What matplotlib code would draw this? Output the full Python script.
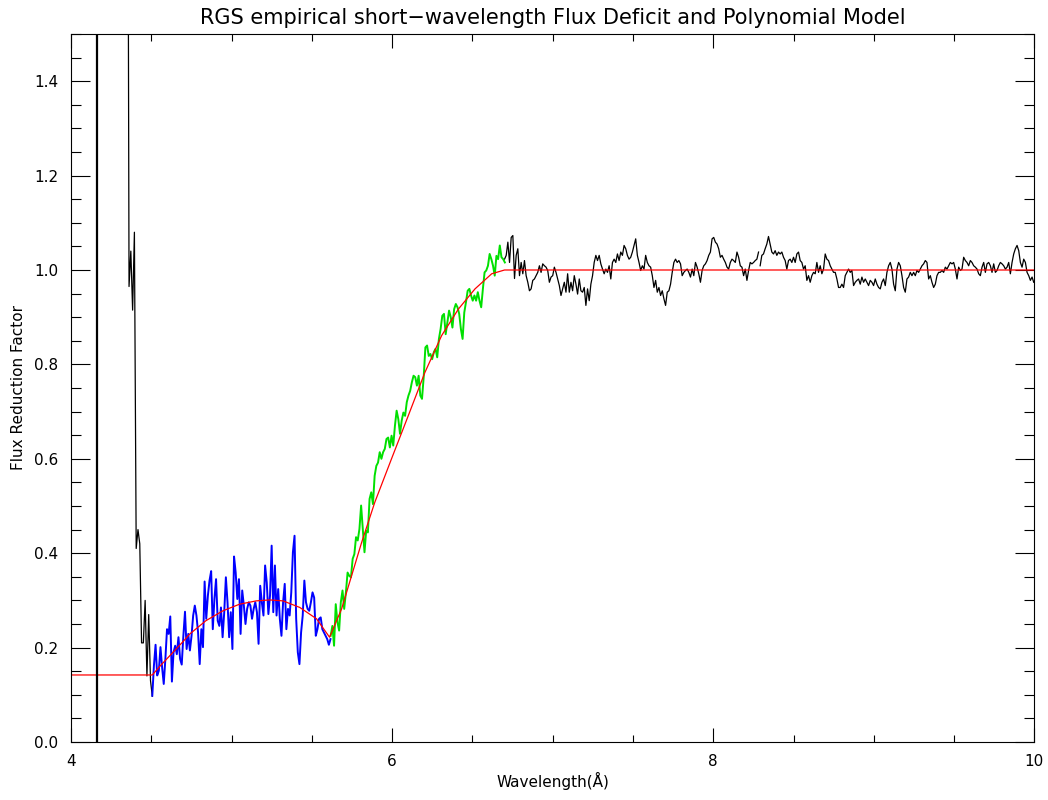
import matplotlib

matplotlib.use("Agg")

import matplotlib.pyplot as plt
import numpy as np
from matplotlib.ticker import MultipleLocator

# black spectrum before the blue fit region (first point runs off the top)
black_lead = [2.5, 0.965, 1.04, 0.915, 1.08, 0.41, 0.45, 0.42, 0.21, 0.21,
              0.30, 0.14, 0.27, 0.13, 0.097]
black_lead_wl = (4.35, 4.506)

# blue: low-flux region 4.5 - 5.62 A
blue = [0.098, 0.162, 0.206, 0.141, 0.151, 0.201, 0.158, 0.123, 0.176, 0.239,
        0.229, 0.266, 0.128, 0.190, 0.204, 0.186, 0.222, 0.176, 0.164, 0.225,
        0.276, 0.197, 0.229, 0.194, 0.225, 0.268, 0.289, 0.268, 0.232, 0.165,
        0.239, 0.201, 0.340, 0.261, 0.310, 0.342, 0.362, 0.239, 0.303, 0.345,
        0.257, 0.246, 0.285, 0.222, 0.275, 0.349, 0.296, 0.222, 0.275, 0.197,
        0.393, 0.359, 0.303, 0.345, 0.229, 0.321, 0.289, 0.250, 0.282, 0.296,
        0.289, 0.261, 0.282, 0.296, 0.275, 0.208, 0.331, 0.296, 0.268, 0.374,
        0.338, 0.271, 0.310, 0.416, 0.275, 0.374, 0.268, 0.324, 0.261, 0.225,
        0.296, 0.335, 0.239, 0.282, 0.268, 0.317, 0.402, 0.437, 0.261, 0.190,
        0.165, 0.232, 0.268, 0.342, 0.296, 0.282, 0.278, 0.296, 0.317, 0.306,
        0.225, 0.239, 0.261, 0.264, 0.239, 0.232, 0.225, 0.218, 0.206, 0.218]
blue_wl = (4.506, 5.616)

# green: rising edge 5.62 - 6.70 A
green = [0.225, 0.246, 0.204, 0.292, 0.254, 0.236, 0.296, 0.321, 0.282, 0.317,
         0.359, 0.352, 0.349, 0.388, 0.398, 0.434, 0.427, 0.451, 0.501, 0.451,
         0.402, 0.448, 0.444, 0.515, 0.529, 0.504, 0.564, 0.585, 0.592, 0.614,
         0.600, 0.614, 0.621, 0.642, 0.645, 0.624, 0.649, 0.628, 0.670, 0.702,
         0.684, 0.653, 0.681, 0.698, 0.691, 0.720, 0.734, 0.744, 0.762, 0.776,
         0.773, 0.755, 0.776, 0.734, 0.727, 0.773, 0.836, 0.840, 0.818, 0.822,
         0.811, 0.826, 0.833, 0.815, 0.854, 0.875, 0.903, 0.907, 0.864, 0.889,
         0.914, 0.900, 0.878, 0.917, 0.928, 0.921, 0.907, 0.875, 0.854, 0.910,
         0.932, 0.956, 0.960, 0.946, 0.935, 0.946, 0.935, 0.953, 0.935, 0.921,
         0.960, 0.995, 0.999, 1.009, 1.034, 1.023, 1.009, 0.988, 1.030, 1.023,
         1.052, 1.027, 1.023, 1.016]
green_wl = (5.617, 6.702)

# black continuum 6.70 - 8.28 A
black_a = [1.023, 1.031, 1.059, 1.016, 1.069, 1.073, 0.982, 1.031, 1.045, 0.988,
           1.016, 0.992, 1.020, 0.988, 0.974, 0.956, 0.960, 0.978, 0.981, 0.988,
           0.995, 1.009, 0.995, 1.013, 1.009, 1.006, 0.999, 0.974, 0.985, 0.988,
           1.006, 0.995, 0.981, 0.967, 0.946, 0.960, 0.974, 0.953, 0.992, 0.953,
           0.974, 0.956, 0.988, 0.970, 0.949, 0.981, 0.956, 0.953, 0.963, 0.925,
           0.960, 0.935, 0.970, 0.988, 1.016, 1.031, 1.020, 1.031, 1.013, 1.002,
           0.992, 1.002, 0.995, 1.009, 0.981, 1.016, 1.023, 1.016, 1.034, 1.020,
           1.038, 1.031, 1.052, 1.045, 1.031, 1.023, 1.027, 1.038, 1.052, 1.066,
           1.031, 1.016, 0.999, 1.009, 1.002, 1.031, 1.016, 1.009, 1.006, 0.988,
           0.963, 0.978, 0.953, 0.963, 0.946, 0.956, 0.939, 0.925, 0.953, 0.956,
           0.970, 0.995, 1.016, 1.023, 1.016, 1.020, 1.013, 0.988, 0.995, 0.999,
           1.002, 0.995, 0.985, 1.002, 0.988, 1.016, 1.006, 0.992, 0.974, 0.999,
           1.009, 1.013, 1.020, 1.031, 1.038, 1.066, 1.069, 1.059, 1.055, 1.045,
           1.027, 1.031, 1.023, 1.016, 1.006, 1.002, 1.016, 1.023, 1.020, 1.016,
           1.038, 1.027, 1.009, 1.006, 0.988, 1.002, 0.978, 0.999, 1.016, 1.013,
           1.016, 1.020, 1.023, 1.038]
black_a_wl = (6.70, 8.282)

# black continuum 8.29 - 10 A
black_b = [1.009, 1.031, 1.034, 1.045, 1.055, 1.071, 1.055, 1.038, 1.034, 1.041,
           1.031, 1.038, 1.034, 1.038, 1.027, 1.020, 1.002, 1.020, 1.023, 1.016,
           1.027, 1.016, 1.034, 1.038, 1.020, 1.016, 1.002, 1.009, 0.978, 0.988,
           0.974, 0.988, 0.995, 0.992, 1.016, 0.995, 1.009, 0.992, 1.002, 1.034,
           1.023, 1.020, 1.009, 1.002, 0.995, 0.995, 0.981, 0.963, 0.963, 0.970,
           0.963, 0.988, 0.995, 1.002, 0.995, 0.999, 0.967, 0.974, 0.978, 0.981,
           0.970, 0.985, 0.974, 0.981, 0.974, 0.967, 0.978, 0.974, 0.967, 0.981,
           0.970, 0.963, 0.960, 0.974, 0.981, 0.967, 0.995, 1.009, 1.016, 1.002,
           0.970, 0.956, 1.002, 1.016, 1.009, 0.988, 0.963, 0.953, 0.981, 0.985,
           0.995, 0.988, 0.995, 0.988, 0.999, 0.995, 1.002, 1.009, 1.013, 1.020,
           1.016, 0.981, 0.988, 0.974, 0.963, 0.970, 0.988, 0.995, 0.995, 0.999,
           0.995, 1.006, 1.002, 1.009, 1.016, 1.013, 1.016, 1.002, 0.981, 1.006,
           0.999, 1.002, 1.027, 1.020, 1.016, 1.009, 1.020, 1.016, 1.009, 1.006,
           1.002, 0.992, 0.988, 1.006, 1.016, 0.995, 1.013, 1.016, 1.009, 0.995,
           1.013, 0.995, 0.999, 1.009, 1.016, 1.013, 1.009, 1.002, 1.006, 1.016,
           0.992, 1.016, 1.034, 1.045, 1.052, 1.041, 1.016, 1.006, 1.023, 1.016,
           0.995, 0.988, 0.978, 0.985, 0.974]
black_b_wl = (8.292, 9.996)

# polynomial model (red)
model_wl = [4.0, 4.506, 4.56, 4.635, 4.69, 4.74, 4.84, 4.946, 5.05, 5.154,
            5.237, 5.32, 5.425, 5.529, 5.61, 5.685, 5.747, 5.81, 5.892, 5.996,
            6.1, 6.204, 6.308, 6.412, 6.516, 6.62, 6.70, 10.0]
model = [0.142, 0.142, 0.163, 0.190, 0.210, 0.229, 0.257, 0.278, 0.292, 0.299,
         0.301, 0.299, 0.285, 0.261, 0.222, 0.282, 0.352, 0.423, 0.508, 0.600,
         0.691, 0.783, 0.861, 0.917, 0.960, 0.992, 1.0, 1.0]

edge_wl = 4.16


def grid(vals, span):
    return np.linspace(span[0], span[1], len(vals))


plt.rcParams["font.family"] = ["DejaVu Sans"]
fig = plt.figure(figsize=(10.48, 8), dpi=100)
ax = fig.add_axes([0.0678, 0.0725, 0.9192, 0.885])

ax.plot(grid(black_lead, black_lead_wl), black_lead, color="black", lw=0.9)
ax.plot(grid(black_a, black_a_wl), black_a, color="black", lw=0.9)
ax.plot(grid(black_b, black_b_wl), black_b, color="black", lw=0.9)
ax.plot(grid(blue, blue_wl), blue, color="#0000ff", lw=1.4)
ax.plot(grid(green, green_wl), green, color="#00e000", lw=1.4)
ax.plot(model_wl, model, color="#ff0000", lw=0.9)
ax.axvline(edge_wl, color="black", lw=1.6)

ax.set_xlim(4, 10)
ax.set_ylim(0, 1.5)
ax.xaxis.set_major_locator(MultipleLocator(2))
ax.xaxis.set_minor_locator(MultipleLocator(0.5))
ax.yaxis.set_major_locator(MultipleLocator(0.2))
ax.yaxis.set_minor_locator(MultipleLocator(0.05))
ax.yaxis.set_major_formatter(matplotlib.ticker.FormatStrFormatter("%.1f"))

ax.tick_params(which="both", direction="in", top=True, right=True, colors="black",
               width=0.8, labelsize=11)
ax.tick_params(axis="x", which="major", length=10, pad=9)
ax.tick_params(axis="x", which="minor", length=5)
ax.tick_params(axis="y", which="major", length=14, pad=9)
ax.tick_params(axis="y", which="minor", length=7)
for s in ax.spines.values():
    s.set_linewidth(0.8)

ax.set_title("RGS empirical short\u2212wavelength Flux Deficit and Polynomial Model",
             fontsize=15, pad=7)
ax.set_xlabel("Wavelength(\u00c5)", fontsize=11, labelpad=2)
ax.set_ylabel("Flux Reduction Factor", fontsize=11, labelpad=6)

fig.savefig("out.png", dpi=100)
